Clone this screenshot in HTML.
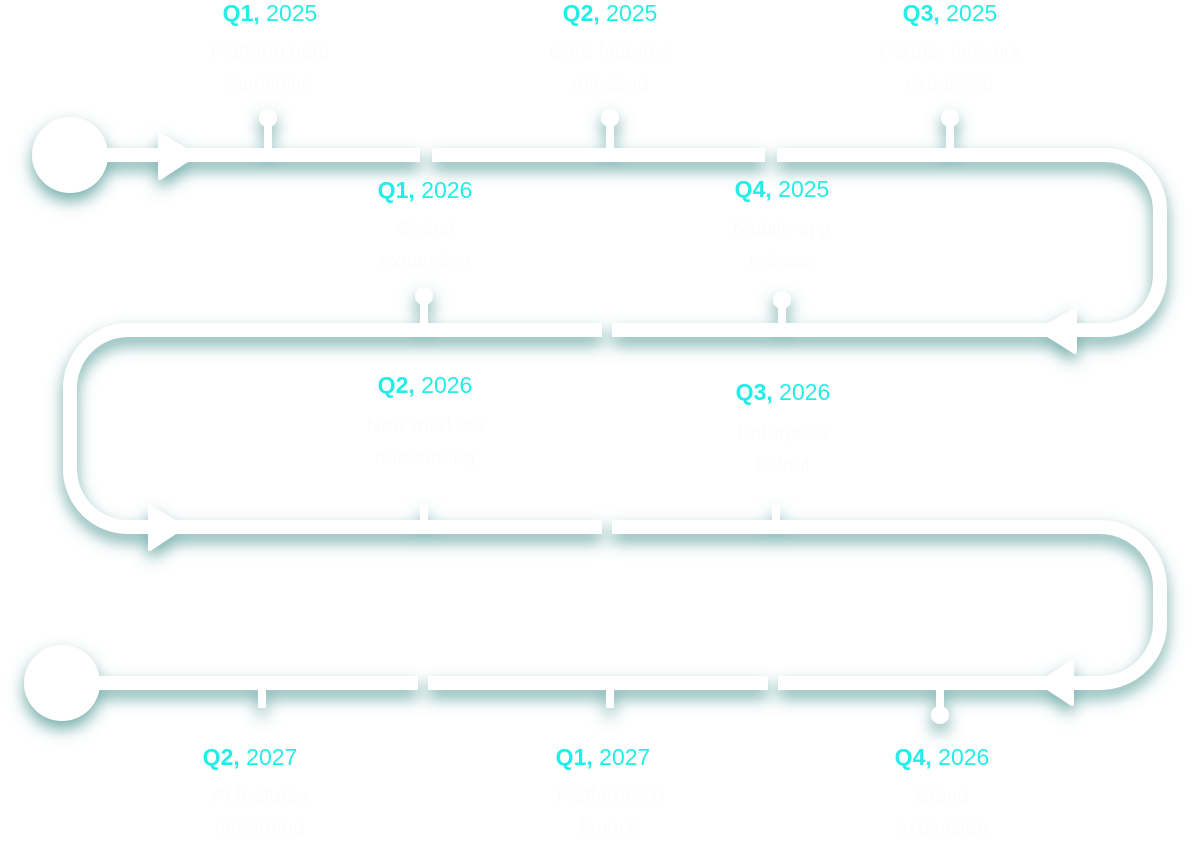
<!DOCTYPE html>
<html><head><meta charset="utf-8"><style>
html,body{margin:0;padding:0;background:#fff;}
body{width:1200px;height:846px;position:relative;overflow:hidden;font-family:"Liberation Sans",sans-serif;}
.l{position:absolute;color:#22eee8;font-size:23px;white-space:nowrap;transform:translateX(-50%);line-height:26px;}
.l b{font-weight:900;}
.w{position:absolute;color:#fcfcfc;font-size:20px;transform:translateX(-50%);text-align:center;white-space:nowrap;line-height:32px;}
</style></head><body>
<svg width="1200" height="846" style="position:absolute;left:0;top:0">
<defs><filter id="s" x="-20%" y="-20%" width="140%" height="140%"><feDropShadow dx="0" dy="8" stdDeviation="8" flood-color="#5a9f9c" flood-opacity="0.85"/></filter></defs>
<g filter="url(#s)" fill="#fff" stroke="#fff">
<g fill="none" stroke-width="14" stroke-linecap="butt">
<path d="M100 155 H420 M432 155 H765 M777 155 H1105 A55 55 0 0 1 1160 210 V275 A55 55 0 0 1 1105 330 H612 M602 330 H128 A58 58 0 0 0 70 388 V469 A58 58 0 0 0 128 527 H602 M612 527 H1100 A60 60 0 0 1 1160 587 V623 A60 60 0 0 1 1100 683 H778 M768 683 H428 M418 683 H90"/>
</g>
<circle cx="70" cy="155" r="38" stroke="none"/>
<circle cx="62" cy="683" r="38" stroke="none"/>
<polygon points="160,135 195,155 160,178" stroke-width="4" stroke-linejoin="round"/>
<polygon points="1075,310 1040,330 1075,352" stroke-width="4" stroke-linejoin="round"/>
<polygon points="150,507 183,527 150,549" stroke-width="4" stroke-linejoin="round"/>
<polygon points="1072,662 1040,683 1072,704" stroke-width="4" stroke-linejoin="round"/>
<g stroke-width="8" fill="none">
<path d="M268 118V150 M610 118V150 M950 118V150 M424 296V325 M782 300V325 M424 505V522 M776 505V522 M262 688V708 M610 688V708 M940 688V715"/>
</g>
<g stroke="none">
<circle cx="268" cy="118" r="9"/><circle cx="610" cy="118" r="9"/><circle cx="950" cy="118" r="9"/>
<circle cx="424" cy="296" r="9"/><circle cx="782" cy="300" r="9"/><circle cx="940" cy="715" r="9"/>
</g>
</g>
</svg>
<div class="l" style="left:270px;top:0px"><b>Q1,</b> 2025</div>
<div class="l" style="left:610px;top:0px"><b>Q2,</b> 2025</div>
<div class="l" style="left:950px;top:0px"><b>Q3,</b> 2025</div>
<div class="l" style="left:425px;top:177px"><b>Q1,</b> 2026</div>
<div class="l" style="left:782px;top:176px"><b>Q4,</b> 2025</div>
<div class="l" style="left:425px;top:372px"><b>Q2,</b> 2026</div>
<div class="l" style="left:783px;top:379px"><b>Q3,</b> 2026</div>
<div class="l" style="left:250px;top:744px"><b>Q2,</b> 2027</div>
<div class="l" style="left:603px;top:744px"><b>Q1,</b> 2027</div>
<div class="l" style="left:942px;top:744px"><b>Q4,</b> 2026</div>
<div class="w" style="left:270px;top:36px">Platform beta<br>launching</div>
<div class="w" style="left:610px;top:36px">Core features<br>released</div>
<div class="w" style="left:950px;top:36px">Partner network<br>expanded</div>
<div class="w" style="left:425px;top:213px">Global<br>expansion</div>
<div class="w" style="left:782px;top:213px">Mobile app<br>release</div>
<div class="w" style="left:425px;top:410px">New markets<br>onboarding</div>
<div class="w" style="left:783px;top:417px">Enterprise<br>rollout</div>
<div class="w" style="left:260px;top:780px">AI features<br>integrated</div>
<div class="w" style="left:610px;top:780px">Platform 2.0<br>launch</div>
<div class="w" style="left:942px;top:780px">Brand<br>expansion</div>
</body></html>
